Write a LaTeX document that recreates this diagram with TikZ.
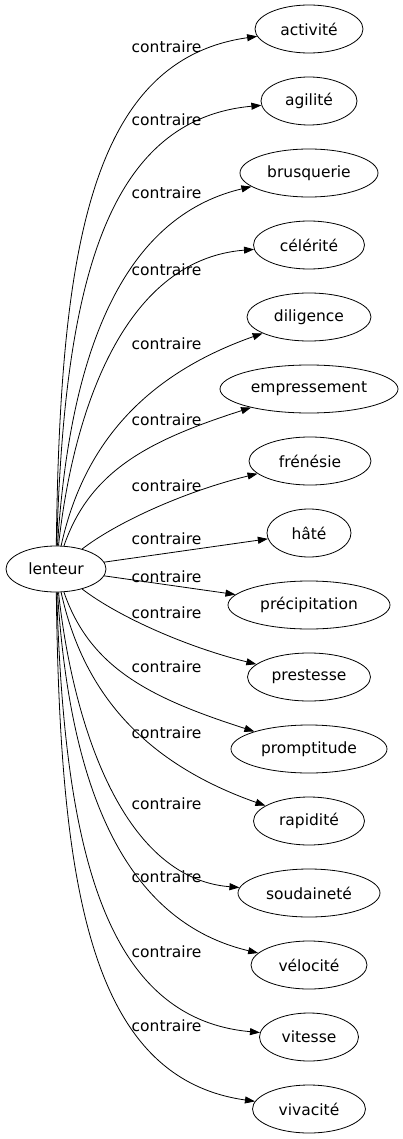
\documentclass[tikz,border=0pt]{standalone}
\usepackage{fontspec}
\setmainfont{DejaVu Sans}
\usetikzlibrary{arrows.meta,shapes.geometric}
\begin{document}
\begin{tikzpicture}[x=1pt,y=-1pt,
  every node/.style={font=\fontsize{15.5}{18}\selectfont},
  word/.style={draw,ellipse,inner sep=0pt,minimum height=48pt,line width=0.8pt},
  lbl/.style={inner sep=0pt},
  rel/.style={line width=0.8pt,-{Triangle[length=10pt,width=7pt]}}]
\useasboundingbox (0,0) rectangle (403,1139);
\node[word,minimum width=100pt,minimum height=46pt] (lenteur) at (56,569) {lenteur};
\node[word,minimum width=108pt] (n0) at (309,29) {activité};
\node[word,minimum width=96pt] (n1) at (309,101) {agilité};
\node[word,minimum width=138pt] (n2) at (309,173) {brusquerie};
\node[word,minimum width=111pt] (n3) at (309,245) {célérité};
\node[word,minimum width=124pt] (n4) at (309,317) {diligence};
\node[word,minimum width=178pt] (n5) at (309,389) {empressement};
\node[word,minimum width=122pt] (n6) at (310,461) {frénésie};
\node[word,minimum width=84pt] (n7) at (309,533) {hâté};
\node[word,minimum width=162pt] (n8) at (309,605) {précipitation};
\node[word,minimum width=123pt] (n9) at (309,677) {prestesse};
\node[word,minimum width=156pt] (n10) at (309,749) {promptitude};
\node[word,minimum width=111pt] (n11) at (309,821) {rapidité};
\node[word,minimum width=142pt] (n12) at (309,893) {soudaineté};
\node[word,minimum width=116pt] (n13) at (309,965) {vélocité};
\node[word,minimum width=99pt] (n14) at (309,1037) {vitesse};
\node[word,minimum width=113pt] (n15) at (309,1109) {vivacité};
% labels
\foreach \i/\y in {0/47,1/120,2/193,3/270,4/344,5/420,6/486,7/539,8/577,9/613,10/667,11/733,12/804,13/877,14/952,15/1026}
  \node[lbl] (l\i) at (166.5,\y) {contraire};
% edges
\draw[rel] (lenteur) .. controls (60,250) and (90,60) .. (n0);
\draw[rel] (lenteur) .. controls (64,300) and (100,120) .. (n1);
\draw[rel] (lenteur) .. controls (68,380) and (110,220) .. (n2);
\draw[rel] (lenteur) .. controls (72,420) and (120,260) .. (n3);
\draw[rel] (lenteur) .. controls (80,460) and (130,380) .. (n4);
\draw[rel] (lenteur) .. controls (90,470) and (150,440) .. (n5);
\draw[rel] (lenteur) .. controls (120,520) and (190,490) .. (n6);
\draw[rel] (lenteur) -- (n7);
\draw[rel] (lenteur) -- (n8);
\draw[rel] (lenteur) .. controls (120,618) and (190,648) .. (n9);
\draw[rel] (lenteur) .. controls (90,668) and (150,698) .. (n10);
\draw[rel] (lenteur) .. controls (80,678) and (130,758) .. (n11);
\draw[rel] (lenteur) .. controls (72,718) and (120,878) .. (n12);
\draw[rel] (lenteur) .. controls (68,758) and (110,918) .. (n13);
\draw[rel] (lenteur) .. controls (64,838) and (100,1018) .. (n14);
\draw[rel] (lenteur) .. controls (60,888) and (90,1078) .. (n15);
\end{tikzpicture}
\end{document}
